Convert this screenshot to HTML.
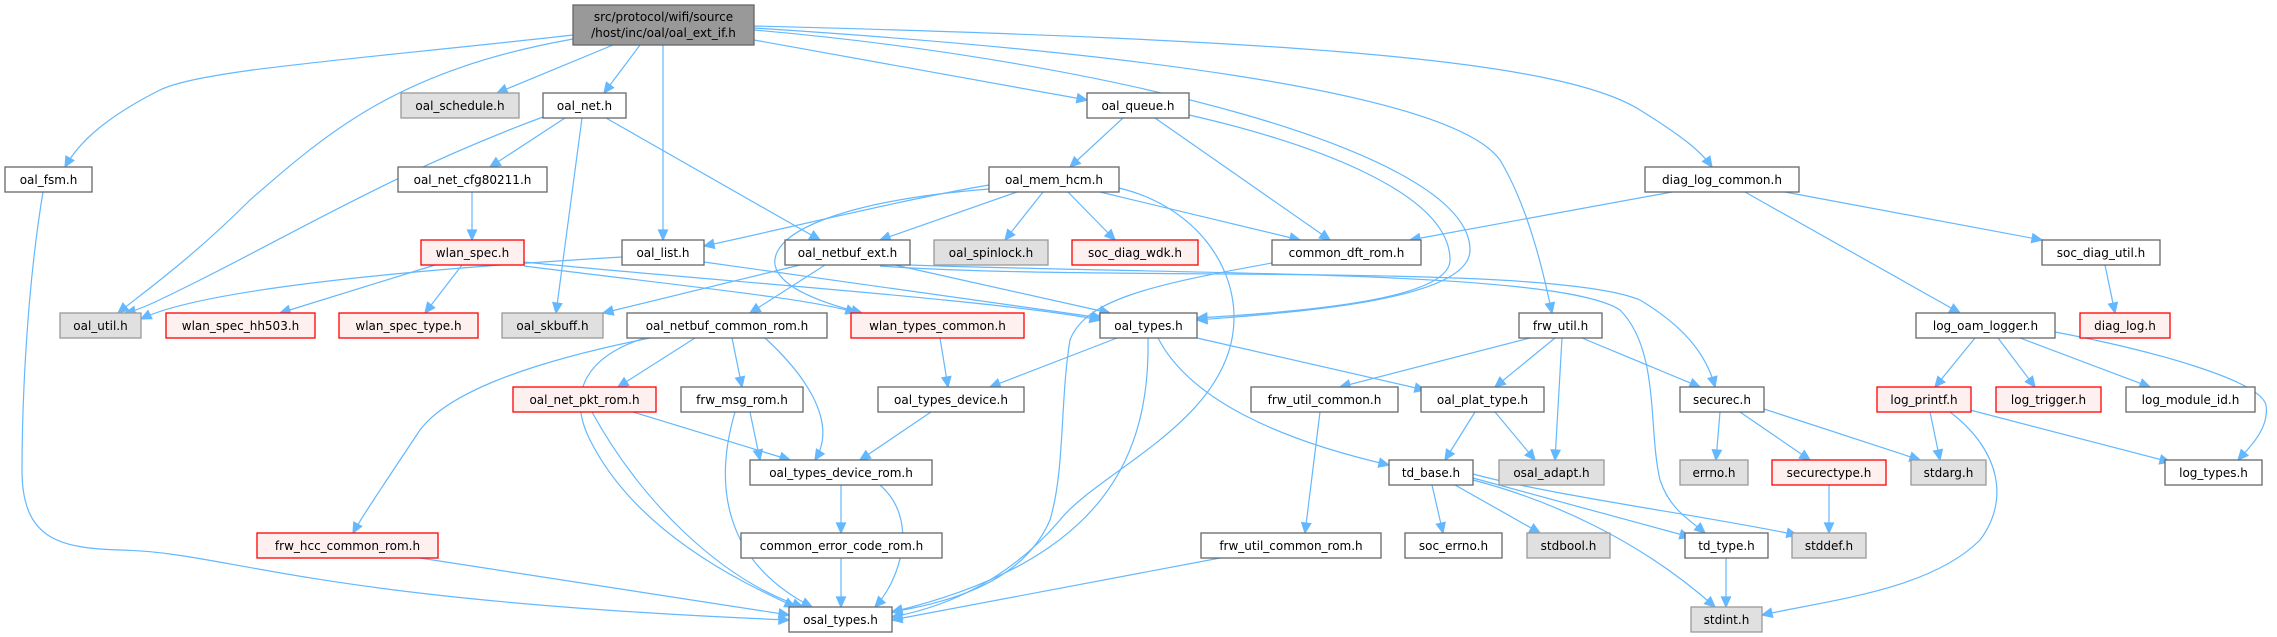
<!DOCTYPE html>
<html><head><meta charset="utf-8"><style>
html,body{margin:0;padding:0;background:#fff;}
svg{display:block;}
text{font-family:"DejaVu Sans","Liberation Sans",sans-serif;font-size:12px;fill:#000;}
.w{fill:#fff;stroke:#666;stroke-width:1.3}
.g{fill:#e0e0e0;stroke:#999;stroke-width:1.3}
.r{fill:#fff0f0;stroke:#ff0000;stroke-width:1.3}
.d{fill:#999;stroke:#666;stroke-width:1.3}
</style></head><body>
<svg id="s" width="2277" height="637" viewBox="0 0 2277 637" xmlns="http://www.w3.org/2000/svg">
<g id="edges" fill="none" stroke="#63b8ff" stroke-width="1.2"></g>
<g id="nodes">
<rect id="top" class="d" x="573" y="5" width="181" height="40"/><text x="663.5" y="21" text-anchor="middle">src/protocol/wifi/source</text><text x="663.5" y="37" text-anchor="middle">/host/inc/oal/oal_ext_if.h</text>
<rect id="oal_schedule" class="g" x="401" y="93" width="118" height="25"/><text x="460" y="110" text-anchor="middle">oal_schedule.h</text>
<rect id="oal_net" class="w" x="543" y="93" width="83" height="25"/><text x="584.5" y="110" text-anchor="middle">oal_net.h</text>
<rect id="oal_queue" class="w" x="1087" y="93" width="102" height="25"/><text x="1138" y="110" text-anchor="middle">oal_queue.h</text>
<rect id="diag_log_common" class="w" x="1645" y="167" width="154" height="25"/><text x="1722" y="184" text-anchor="middle">diag_log_common.h</text>
<rect id="oal_fsm" class="w" x="5" y="167" width="87" height="25"/><text x="48.5" y="184" text-anchor="middle">oal_fsm.h</text>
<rect id="oal_net_cfg80211" class="w" x="398" y="167" width="149" height="25"/><text x="472.5" y="184" text-anchor="middle">oal_net_cfg80211.h</text>
<rect id="oal_mem_hcm" class="w" x="989" y="167" width="130" height="25"/><text x="1054" y="184" text-anchor="middle">oal_mem_hcm.h</text>
<rect id="wlan_spec" class="r" x="421" y="240" width="103" height="25"/><text x="472.5" y="257" text-anchor="middle">wlan_spec.h</text>
<rect id="oal_list" class="w" x="622" y="240" width="82" height="25"/><text x="663" y="257" text-anchor="middle">oal_list.h</text>
<rect id="oal_netbuf_ext" class="w" x="785" y="240" width="125" height="25"/><text x="847.5" y="257" text-anchor="middle">oal_netbuf_ext.h</text>
<rect id="oal_spinlock" class="g" x="934" y="240" width="114" height="25"/><text x="991" y="257" text-anchor="middle">oal_spinlock.h</text>
<rect id="soc_diag_wdk" class="r" x="1072" y="240" width="126" height="25"/><text x="1135" y="257" text-anchor="middle">soc_diag_wdk.h</text>
<rect id="common_dft_rom" class="w" x="1272" y="240" width="149" height="25"/><text x="1346.5" y="257" text-anchor="middle">common_dft_rom.h</text>
<rect id="soc_diag_util" class="w" x="2042" y="240" width="118" height="25"/><text x="2101" y="257" text-anchor="middle">soc_diag_util.h</text>
<rect id="oal_util" class="g" x="60" y="313" width="81" height="25"/><text x="100.5" y="330" text-anchor="middle">oal_util.h</text>
<rect id="wlan_spec_hh503" class="r" x="166" y="313" width="149" height="25"/><text x="240.5" y="330" text-anchor="middle">wlan_spec_hh503.h</text>
<rect id="wlan_spec_type" class="r" x="339" y="313" width="139" height="25"/><text x="408.5" y="330" text-anchor="middle">wlan_spec_type.h</text>
<rect id="oal_skbuff" class="g" x="502" y="313" width="101" height="25"/><text x="552.5" y="330" text-anchor="middle">oal_skbuff.h</text>
<rect id="oal_netbuf_common_rom" class="w" x="627" y="313" width="200" height="25"/><text x="727" y="330" text-anchor="middle">oal_netbuf_common_rom.h</text>
<rect id="wlan_types_common" class="r" x="851" y="313" width="173" height="25"/><text x="937.5" y="330" text-anchor="middle">wlan_types_common.h</text>
<rect id="oal_types" class="w" x="1100" y="313" width="97" height="25"/><text x="1148.5" y="330" text-anchor="middle">oal_types.h</text>
<rect id="frw_util" class="w" x="1519" y="313" width="83" height="25"/><text x="1560.5" y="330" text-anchor="middle">frw_util.h</text>
<rect id="log_oam_logger" class="w" x="1916" y="313" width="139" height="25"/><text x="1985.5" y="330" text-anchor="middle">log_oam_logger.h</text>
<rect id="diag_log" class="r" x="2080" y="313" width="90" height="25"/><text x="2125" y="330" text-anchor="middle">diag_log.h</text>
<rect id="oal_net_pkt_rom" class="r" x="513" y="387" width="143" height="25"/><text x="584.5" y="404" text-anchor="middle">oal_net_pkt_rom.h</text>
<rect id="frw_msg_rom" class="w" x="681" y="387" width="122" height="25"/><text x="742" y="404" text-anchor="middle">frw_msg_rom.h</text>
<rect id="oal_types_device" class="w" x="878" y="387" width="146" height="25"/><text x="951" y="404" text-anchor="middle">oal_types_device.h</text>
<rect id="frw_util_common" class="w" x="1251" y="387" width="147" height="25"/><text x="1324.5" y="404" text-anchor="middle">frw_util_common.h</text>
<rect id="oal_plat_type" class="w" x="1421" y="387" width="123" height="25"/><text x="1482.5" y="404" text-anchor="middle">oal_plat_type.h</text>
<rect id="securec" class="w" x="1680" y="387" width="84" height="25"/><text x="1722" y="404" text-anchor="middle">securec.h</text>
<rect id="log_printf" class="r" x="1877" y="387" width="94" height="25"/><text x="1924" y="404" text-anchor="middle">log_printf.h</text>
<rect id="log_trigger" class="r" x="1996" y="387" width="105" height="25"/><text x="2048.5" y="404" text-anchor="middle">log_trigger.h</text>
<rect id="log_module_id" class="w" x="2126" y="387" width="129" height="25"/><text x="2190.5" y="404" text-anchor="middle">log_module_id.h</text>
<rect id="oal_types_device_rom" class="w" x="750" y="460" width="182" height="25"/><text x="841" y="477" text-anchor="middle">oal_types_device_rom.h</text>
<rect id="td_base" class="w" x="1389" y="460" width="84" height="25"/><text x="1431" y="477" text-anchor="middle">td_base.h</text>
<rect id="osal_adapt" class="g" x="1499" y="460" width="105" height="25"/><text x="1551.5" y="477" text-anchor="middle">osal_adapt.h</text>
<rect id="errno" class="g" x="1680" y="460" width="68" height="25"/><text x="1714" y="477" text-anchor="middle">errno.h</text>
<rect id="securectype" class="r" x="1772" y="460" width="114" height="25"/><text x="1829" y="477" text-anchor="middle">securectype.h</text>
<rect id="stdarg" class="g" x="1911" y="460" width="75" height="25"/><text x="1948.5" y="477" text-anchor="middle">stdarg.h</text>
<rect id="log_types" class="w" x="2165" y="460" width="97" height="25"/><text x="2213.5" y="477" text-anchor="middle">log_types.h</text>
<rect id="frw_hcc_common_rom" class="r" x="257" y="533" width="181" height="25"/><text x="347.5" y="550" text-anchor="middle">frw_hcc_common_rom.h</text>
<rect id="common_error_code_rom" class="w" x="741" y="533" width="201" height="25"/><text x="841.5" y="550" text-anchor="middle">common_error_code_rom.h</text>
<rect id="frw_util_common_rom" class="w" x="1201" y="533" width="180" height="25"/><text x="1291" y="550" text-anchor="middle">frw_util_common_rom.h</text>
<rect id="soc_errno" class="w" x="1405" y="533" width="97" height="25"/><text x="1453.5" y="550" text-anchor="middle">soc_errno.h</text>
<rect id="stdbool" class="g" x="1527" y="533" width="83" height="25"/><text x="1568.5" y="550" text-anchor="middle">stdbool.h</text>
<rect id="td_type" class="w" x="1685" y="533" width="83" height="25"/><text x="1726.5" y="550" text-anchor="middle">td_type.h</text>
<rect id="stddef" class="g" x="1792" y="533" width="74" height="25"/><text x="1829" y="550" text-anchor="middle">stddef.h</text>
<rect id="osal_types" class="w" x="789" y="607" width="103" height="25"/><text x="840.5" y="624" text-anchor="middle">osal_types.h</text>
<rect id="stdint" class="g" x="1691" y="607" width="71" height="25"/><text x="1726.5" y="624" text-anchor="middle">stdint.h</text>
</g>
</svg>
<script>
(function(){
var P=[
"M573,35 C350,60 200,70 160,90 C110,115 80,140 65,167",
"M573,39 C400,70 330,130 250,200 C190,260 140,295 118,313",
"M613,45 L497,93",
"M640,45 L604,93",
"M663,45 L663,240",
"M754,40 L1087,100",
"M754,30 C1100,60 1470,150 1470,250 C1470,300 1300,312 1197,320",
"M754,28 C1100,50 1450,90 1500,160 C1530,210 1545,280 1552,313",
"M754,26 C1300,40 1560,60 1640,110 C1680,135 1700,150 1712,167",
"M543,117 C400,170 300,230 200,280 C160,300 140,310 125,313",
"M565,118 L490,167",
"M582,118 L556,313",
"M606,118 L820,240",
"M43,192 C25,300 22,420 22,470 C22,540 60,548 120,550 C230,552 300,600 789,620",
"M472,192 L472,240",
"M435,265 L280,313",
"M462,265 L425,313",
"M524,262 C700,280 1000,300 1100,320",
"M524,266 C700,288 820,300 856,313",
"M622,257 C400,270 200,290 141,319",
"M704,262 L1102,318",
"M1123,118 L1070,167",
"M1155,118 L1330,240",
"M1189,115 C1300,140 1450,190 1450,260 C1450,300 1300,312 1197,318",
"M989,185 C900,200 780,230 704,246",
"M1017,192 L880,240",
"M1043,192 L1005,240",
"M1068,192 L1115,240",
"M1100,192 L1300,240",
"M1119,188 C1190,205 1235,260 1234,320 C1232,420 1100,470 1060,520 C1000,590 930,610 892,617",
"M989,189 C850,200 770,230 775,265 C780,290 830,305 862,313",
"M800,265 L603,313",
"M825,265 L750,313",
"M895,265 L1110,313",
"M910,265 C1200,275 1560,270 1620,310 C1660,350 1648,430 1660,480 C1670,510 1690,520 1705,533",
"M880,266 C1100,282 1550,262 1640,300 C1690,330 1708,360 1715,387",
"M1272,263 C1150,285 1085,300 1070,340 C1060,400 1065,470 1050,520 C1020,590 930,605 892,612",
"M1672,192 L1410,240",
"M1745,192 L1960,313",
"M1785,192 L2042,240",
"M2105,265 L2115,313",
"M695,338 L618,387",
"M732,338 L742,387",
"M765,338 C800,370 840,420 815,460",
"M650,338 C540,360 450,390 420,430 C380,490 360,520 353,533",
"M645,338 C590,355 565,390 590,440 C640,540 760,590 795,607",
"M633,412 L790,460",
"M592,412 C640,500 720,580 803,607",
"M750,412 L760,460",
"M735,412 C715,480 720,560 812,607",
"M940,338 L948,387",
"M1117,338 L990,387",
"M1148,338 C1150,450 1110,560 892,612",
"M1158,338 C1190,400 1280,440 1389,465",
"M1197,338 L1425,390",
"M931,412 L860,460",
"M841,485 L841,533",
"M880,485 C920,520 900,580 875,607",
"M841,558 L841,607",
"M420,558 L789,615",
"M1530,338 L1340,387",
"M1555,338 L1495,387",
"M1562,338 L1555,460",
"M1582,338 L1700,387",
"M1320,412 L1305,533",
"M1220,558 L892,620",
"M1475,412 L1445,460",
"M1495,412 L1535,460",
"M1432,485 L1443,533",
"M1455,485 L1540,533",
"M1473,478 L1690,537",
"M1473,474 C1550,495 1700,515 1797,535",
"M1473,480 C1550,500 1640,540 1715,607",
"M1726,558 L1726,607",
"M1720,412 L1716,460",
"M1740,412 L1810,460",
"M1761,408 L1920,460",
"M1829,485 L1829,533",
"M1975,338 L1935,387",
"M1998,338 L2035,387",
"M2020,338 L2150,387",
"M2055,332 C2150,350 2260,380 2266,405 C2270,430 2245,452 2238,460",
"M1930,412 L1940,460",
"M1970,410 L2170,462",
"M1950,412 C2000,450 2010,500 1980,540 C1930,590 1830,600 1762,615"
];
var NS="http://www.w3.org/2000/svg",g=document.getElementById("edges");
P.forEach(function(d){
 var p=document.createElementNS(NS,"path");p.setAttribute("d",d);g.appendChild(p);
 var n=d.match(/-?\d+(\.\d+)?/g).map(Number);var L=n.length;
 var ex=n[L-2],ey=n[L-1],cx=n[L-4],cy=n[L-3];
 var vx=ex-cx,vy=ey-cy,l=Math.sqrt(vx*vx+vy*vy)||1;vx/=l;vy/=l;
 var bx=ex-vx*10,by=ey-vy*10,px=-vy,py=vx;
 var a=document.createElementNS(NS,"polygon");
 a.setAttribute("points",ex+","+ey+" "+(bx+px*4.5)+","+(by+py*4.5)+" "+(bx-px*4.5)+","+(by-py*4.5));
 a.setAttribute("fill","#63b8ff");a.setAttribute("stroke","#63b8ff");g.appendChild(a);
});
})();
</script>
</body></html>
